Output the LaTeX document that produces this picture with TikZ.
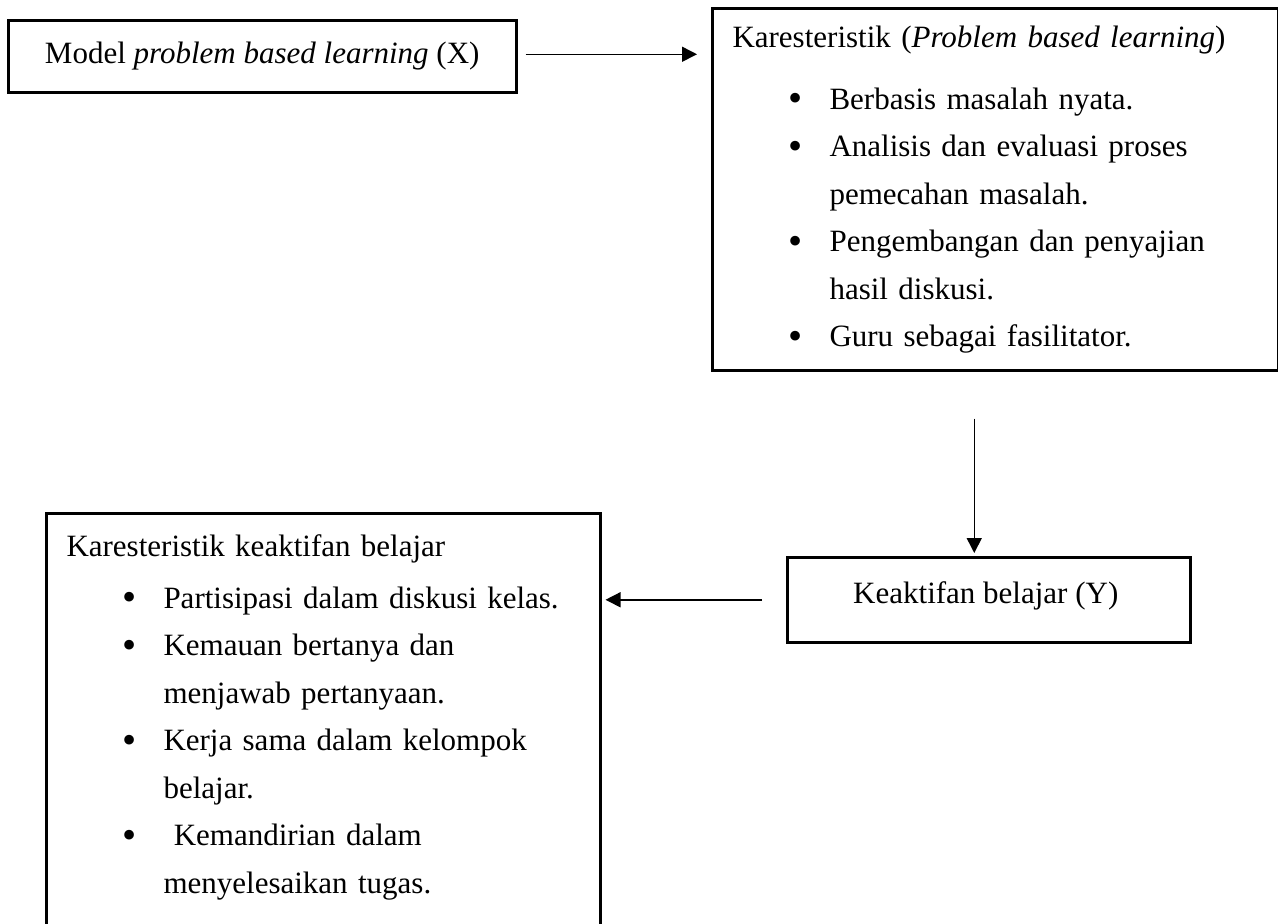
\documentclass[tikz,border=0pt]{standalone}
\usepackage{fontspec}
\setmainfont{Liberation Serif}
\usetikzlibrary{arrows.meta,positioning}

\newcommand{\pitem}{\hspace*{22.4pt}\makebox[16.4pt][l]{\raisebox{-1pt}{\scalebox{1.3}{\textbullet}}}}
\newcommand{\pcont}{\hspace*{38.8pt}}

\begin{document}
\begin{tikzpicture}[x=0.4pt,
            y=-0.4pt,
            >={Triangle[length=6pt,width=6pt]},
            box/.style={draw, line width=1pt, anchor=north west, inner sep=0pt},
            txt/.style={font=\fontsize{12.4}{19}\selectfont, inner sep=0pt},
            list/.style={txt, anchor=base west, align=left, text width=#1},
            arr/.style={->, line width=0.6pt}]

        \useasboundingbox (0,0) rectangle (1278,923);
        \clip (0,0) rectangle (1278,923);

        % boxes
        \node[box, txt, minimum width=203.2pt, minimum height=28.8pt] (model)    at (7,19)    {Model \textit{problem based learning} (X)};
        \node[box, minimum width=226.4pt, minimum height=144.8pt]     (karpbl)   at (711,7)   {};
        \node[box, minimum width=161.2pt, minimum height=34pt]        (keaktif)  at (786,556) {};
        \node[box, minimum width=221.6pt, minimum height=176pt]       (karaktif) at (45,512)  {};

        % texts
        \node[list=210pt] (karpbltxt) at ([shift={(21,40)}]karpbl.north west)
            {Karesteristik (\textit{Problem based learning})\\[5.8pt]
             \pitem Berbasis masalah nyata.\\
             \pitem Analisis dan evaluasi proses\\
             \pcont pemecahan masalah.\\
             \pitem Pengembangan dan penyajian\\
             \pcont hasil diskusi.\\
             \pitem Guru sebagai fasilitator.};
        \node[txt, anchor=base] (keaktiftxt) at ([shift={(-3,47)}]keaktif.north) {Keaktifan belajar (Y)};
        \node[list=210pt] (karaktiftxt) at ([shift={(21,44)}]karaktif.north west)
            {Karesteristik keaktifan belajar\\[1.8pt]
             \pitem Partisipasi dalam diskusi kelas.\\
             \pitem Kemauan bertanya dan\\
             \pcont menjawab pertanyaan.\\
             \pitem Kerja sama dalam kelompok\\
             \pcont belajar.\\
             \pitem\ Kemandirian dalam\\
             \pcont menyelesaikan tugas.};

        % arrows
        \draw[arr, shorten <=3.2pt, shorten >=5.6pt] ([yshift=0.8pt]model.east) -- ([yshift=0.8pt]model.east -| karpbl.west);
        \draw[arr, shorten <=18.8pt, shorten >=1.2pt] ([xshift=-5.8pt]keaktif.north |- karpbl.south) -- ([xshift=-5.8pt]keaktif.north);
        \draw[arr, shorten <=9.6pt, shorten >=1.6pt] (keaktif.west) -- (keaktif.west -| karaktif.east);

    \end{tikzpicture}
\end{document}
